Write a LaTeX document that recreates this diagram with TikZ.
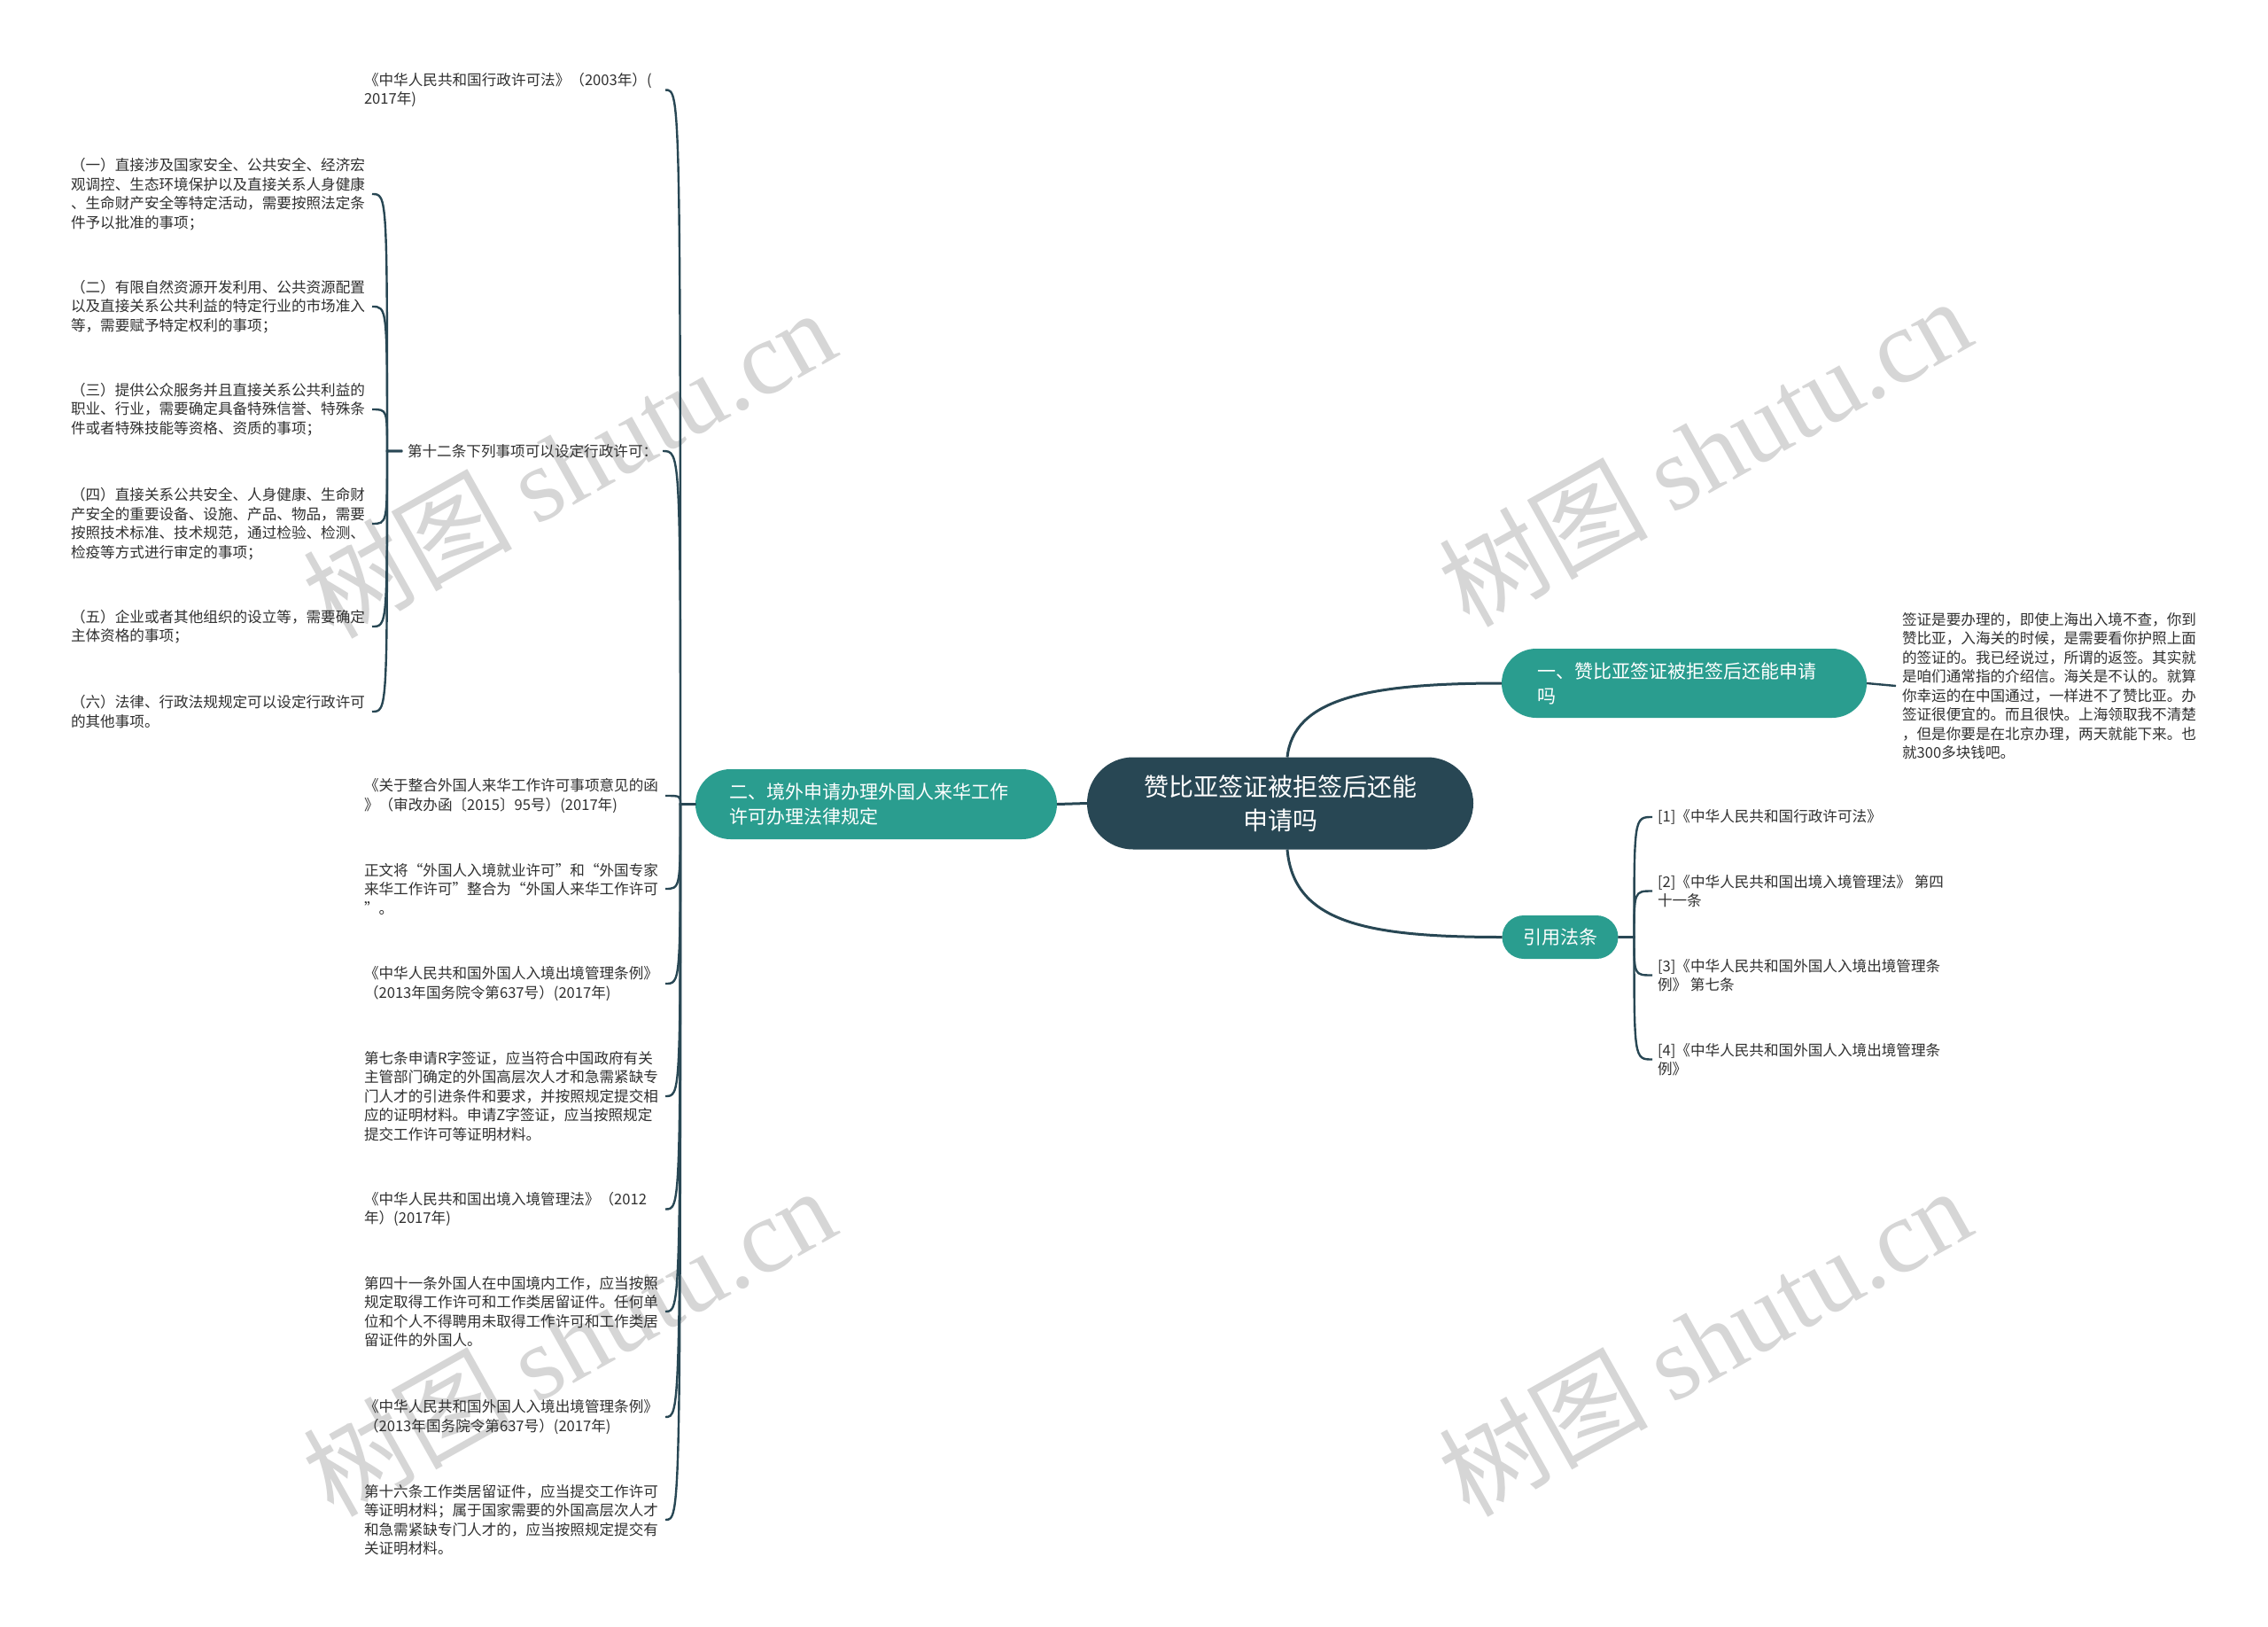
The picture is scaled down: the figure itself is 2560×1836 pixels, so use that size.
\documentclass[tikz,border=0pt]{standalone}
\usepackage{fontspec}
\setmainfont{Noto Sans CJK SC}
\newfontfamily\wmserif{Liberation Serif}
\usetikzlibrary{calc}
\definecolor{rootcol}{RGB}{40,71,84}
\definecolor{tealcol}{RGB}{42,157,143}
\definecolor{txtcol}{RGB}{48,48,48}
\definecolor{wmcol}{RGB}{214,214,214}
\newcommand\leaffont{\fontsize{16.6pt}{21.5pt}\selectfont}
\begin{document}
\begin{tikzpicture}[x=1pt,y=-1pt,
  rootbox/.style={fill=rootcol,draw=none,text=white,rounded corners=52pt,minimum width=436pt,minimum height=104pt,inner sep=0pt,outer sep=0pt,align=center,font=\fontsize{28pt}{38pt}\selectfont},
  branchbox/.style={fill=tealcol,draw=none,text=white,inner ysep=0pt,outer sep=0pt,align=left,font=\fontsize{21pt}{28pt}\selectfont},
  leafL/.style={anchor=west,inner sep=0pt,outer sep=0pt,text width=340pt,align=left,text=txtcol,font=\leaffont},
  leafR/.style={anchor=west,inner sep=0pt,outer sep=6pt,align=left,text=txtcol,font=\leaffont},
  mainedge/.style={draw=rootcol,line width=3pt},
  leafedge/.style={draw=rootcol,line width=2.4pt},
  wm/.style={text=wmcol,rotate=29.3,inner sep=0pt,font=\fontsize{118pt}{118pt}\selectfont}]
\fill[white] (0,0) rectangle (2560,1836);
\useasboundingbox (0,0) rectangle (2560,1836);
% watermarks
\node[wm] (w1) at (642,522) {树图 {\wmserif shutu.cn}};
\node[wm] (w2) at (1924,509) {树图 {\wmserif shutu.cn}};
\node[wm] (w3) at (642,1513) {树图 {\wmserif shutu.cn}};
\node[wm] (w4) at (1924,1513) {树图 {\wmserif shutu.cn}};
% main nodes
\node[rootbox] (root) at (1445,906.5) {赞比亚签证被拒签后还能\\申请吗};
\node[branchbox,rounded corners=39pt,minimum height=78pt,inner xsep=40pt,text width=332pt] (b1) at (1901,771) {一、赞比亚签证被拒签后还能申请\\吗};
\node[branchbox,rounded corners=39.5pt,minimum height=79pt,inner xsep=38pt,text width=332pt] (b2) at (989,907.5) {二、境外申请办理外国人来华工作\\许可办理法律规定};
\node[branchbox,rounded corners=24.5pt,minimum height=49pt,minimum width=131pt,inner xsep=0pt,align=center] (b3) at (1761,1057.5) {引用法条};
% right leaves
\node[leafR,outer sep=7pt] (r1) at (2140,774) {签证是要办理的，即使上海出入境不查，你到\\赞比亚，入海关的时候，是需要看你护照上面\\的签证的。我已经说过，所谓的返签。其实就\\是咱们通常指的介绍信。海关是不认的。就算\\你幸运的在中国通过，一样进不了赞比亚。办\\签证很便宜的。而且很快。上海领取我不清楚\\，但是你要是在北京办理，两天就能下来。也\\就300多块钱吧。};
\node[leafR] (c1) at (1865,922) {[1]《中华人民共和国行政许可法》};
\node[leafR] (c2) at (1865,1005.5) {[2]《中华人民共和国出境入境管理法》 第四\\十一条};
\node[leafR] (c3) at (1865,1100.5) {[3]《中华人民共和国外国人入境出境管理条\\例》 第七条};
\node[leafR] (c4) at (1865,1195.5) {[4]《中华人民共和国外国人入境出境管理条\\例》};
% left leaves
\node[leafL] (L1) at (411,101.5) {《中华人民共和国行政许可法》（2003年）(\\2017年)};
\node[anchor=west,inner sep=0pt,outer sep=6pt,text=txtcol,font=\leaffont] (L2) at (454,509) {第十二条下列事项可以设定行政许可：};
\node[leafL] (L3) at (411,898) {《关于整合外国人来华工作许可事项意见的函\\》（审改办函〔2015〕95号）(2017年)};
\node[leafL] (L4) at (411,1003) {正文将“外国人入境就业许可”和“外国专家\\来华工作许可”整合为“外国人来华工作许可\\”。};
\node[leafL] (L5) at (411,1110) {《中华人民共和国外国人入境出境管理条例》\\（2013年国务院令第637号）(2017年)};
\node[leafL] (L6) at (411,1237) {第七条申请R字签证，应当符合中国政府有关\\主管部门确定的外国高层次人才和急需紧缺专\\门人才的引进条件和要求，并按照规定提交相\\应的证明材料。申请Z字签证，应当按照规定\\提交工作许可等证明材料。};
\node[leafL] (L7) at (411,1364.5) {《中华人民共和国出境入境管理法》（2012\\年）(2017年)};
\node[leafL] (L8) at (411,1480) {第四十一条外国人在中国境内工作，应当按照\\规定取得工作许可和工作类居留证件。任何单\\位和个人不得聘用未取得工作许可和工作类居\\留证件的外国人。};
\node[leafL] (L9) at (411,1599) {《中华人民共和国外国人入境出境管理条例》\\（2013年国务院令第637号）(2017年)};
\node[leafL] (L10) at (411,1715) {第十六条工作类居留证件，应当提交工作许可\\等证明材料；属于国家需要的外国高层次人才\\和急需紧缺专门人才的，应当按照规定提交有\\关证明材料。};
% items of article 12
\node[leafL] (I1) at (80,219) {（一）直接涉及国家安全、公共安全、经济宏\\观调控、生态环境保护以及直接关系人身健康\\、生命财产安全等特定活动，需要按照法定条\\件予以批准的事项；};
\node[leafL] (I2) at (80,346) {（二）有限自然资源开发利用、公共资源配置\\以及直接关系公共利益的特定行业的市场准入\\等，需要赋予特定权利的事项；};
\node[leafL] (I3) at (80,462) {（三）提供公众服务并且直接关系公共利益的\\职业、行业，需要确定具备特殊信誉、特殊条\\件或者特殊技能等资格、资质的事项；};
\node[leafL] (I4) at (80,591) {（四）直接关系公共安全、人身健康、生命财\\产安全的重要设备、设施、产品、物品，需要\\按照技术标准、技术规范，通过检验、检测、\\检疫等方式进行审定的事项；};
\node[leafL] (I5) at (80,707) {（五）企业或者其他组织的设立等，需要确定\\主体资格的事项；};
\node[leafL] (I6) at (80,803) {（六）法律、行政法规规定可以设定行政许可\\的其他事项。};
% root edges
\draw[mainedge] ([xshift=8pt]root.north) .. controls +(7,-65) and ($(b1.west)+(-155,0)$) .. (b1.west);
\draw[mainedge] ([xshift=8pt]root.south) .. controls +(7,82) and ($(b3.west)+(-155,0)$) .. (b3.west);
\draw[mainedge] (root.west) -- (b2.east);
% spines
\coordinate (sL) at ($(b2.west)+(-17,0)$);
\coordinate (s12) at ($(L2.west)+(-17,0)$);
\coordinate (sR) at ($(b3.east)+(18,0)$);
\draw[leafedge] (b1.east) -- (r1.west);
\foreach \c in {c1,c2,c3,c4}
  \draw[leafedge] (b3.east) -- (sR) .. controls (sR |- \c.west) and (sR |- \c.west) .. (\c.west);
\foreach \c in {L1,L2,L3,L4,L5,L6,L7,L8,L9,L10}
  \draw[leafedge] (b2.west) -- (sL) .. controls (sL |- \c.east) and (sL |- \c.east) .. (\c.east);
\foreach \c in {I1,I2,I3,I4,I5,I6}
  \draw[leafedge] (L2.west) -- (s12) .. controls (s12 |- \c.east) and (s12 |- \c.east) .. (\c.east);
\end{tikzpicture}
\end{document}
